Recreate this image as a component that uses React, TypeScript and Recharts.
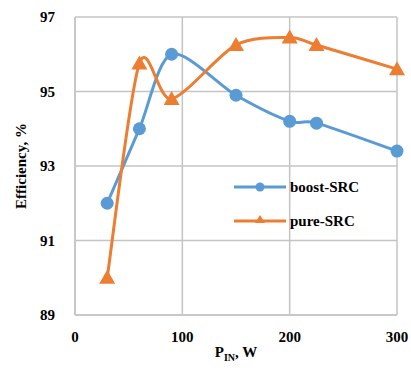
import { LineChart, Line, XAxis, YAxis, CartesianGrid, Label } from 'recharts'

const powerIn = [30, 60, 90, 150, 200, 225, 300]
const boostSrc = [92.0, 94.0, 96.0, 94.9, 94.2, 94.15, 93.4]
const pureSrc = [90.0, 95.75, 94.8, 96.25, 96.45, 96.25, 95.6]
const xTicks = [0, 100, 200, 300]
const yTicks = [89, 91, 93, 95, 97]

const BLUE = '#5B9BD5'
const ORANGE = '#ED7D31'
const GRID = '#C4C4C4'
const FONT = '"Liberation Serif", serif'

// plot box (from chart size and margins)
const W = 411
const H = 370
const M = { top: 17, right: 14, bottom: 25, left: 0 }
const Y_W = 75
const X_H = 30
const PLOT_L = M.left + Y_W
const PLOT_R = W - M.right

const data = powerIn.map((p, i) => ({ p, boost: boostSrc[i], pure: pureSrc[i] }))

// Excel-like smoothed line (Catmull-Rom through every point)
const excelSmooth = (ctx: any) => {
  let pts: number[][] = []
  return {
    areaStart() {},
    areaEnd() {},
    lineStart() {
      pts = []
    },
    point(x: number, y: number) {
      pts.push([+x, +y])
    },
    lineEnd() {
      if (!pts.length) return
      ctx.moveTo(pts[0][0], pts[0][1])
      for (let i = 0; i < pts.length - 1; i++) {
        const p0 = pts[i - 1] || pts[i]
        const p1 = pts[i]
        const p2 = pts[i + 1]
        const p3 = pts[i + 2] || p2
        const k = 7
        ctx.bezierCurveTo(
          p1[0] + (p2[0] - p0[0]) / k,
          p1[1] + (p2[1] - p0[1]) / k,
          p2[0] - (p3[0] - p1[0]) / k,
          p2[1] - (p3[1] - p1[1]) / k,
          p2[0],
          p2[1],
        )
      }
    },
  }
}

const tickText = { fill: '#000', fontSize: 15, fontWeight: 'bold', fontFamily: FONT } as const

const Triangle = ({ cx, cy }: any) => {
  if (cx == null || cy == null) return null
  return <path d={`M${cx},${cy - 8} L${cx + 8},${cy + 6} L${cx - 8},${cy + 6} Z`} fill={ORANGE} />
}

const Circle = ({ cx, cy }: any) => {
  if (cx == null || cy == null) return null
  return <circle cx={cx} cy={cy} r={6.5} fill={BLUE} />
}

const LegendBox = () => (
  <div
    style={{
      position: 'absolute',
      left: 234,
      top: 170,
      fontFamily: FONT,
      fontWeight: 'bold',
      fontSize: 15,
      color: '#000',
    }}
  >
    {[
      { name: 'boost-SRC', color: BLUE, tri: false },
      { name: 'pure-SRC', color: ORANGE, tri: true },
    ].map((s) => (
      <div key={s.name} style={{ display: 'flex', alignItems: 'center', height: 34 }}>
        <svg width={54} height={16}>
          <line x1={0} y1={8} x2={52} y2={8} stroke={s.color} strokeWidth={3} />
          {s.tri ? (
            <path d="M26,2 L31,10 L21,10 Z" fill={s.color} />
          ) : (
            <circle cx={26} cy={8} r={4.5} fill={s.color} />
          )}
        </svg>
        <span style={{ marginLeft: 2 }}>{s.name}</span>
      </div>
    ))}
  </div>
)

const XLabel = ({ viewBox }: any) => {
  const cx = viewBox ? viewBox.x + viewBox.width / 2 : (PLOT_L + PLOT_R) / 2
  return (
    <text x={cx} y={357} textAnchor="middle" fontFamily={FONT} fontWeight="bold" fontSize={15} fill="#000">
      P
      <tspan fontSize={10} dy={4}>IN</tspan>
      <tspan dy={-4}>, W</tspan>
    </text>
  )
}

export default function App() {
  return (
    <div style={{ position: 'absolute', left: 0, top: 0, width: W, height: H, background: '#fff' }}>
      <LineChart width={W} height={H} data={data} margin={M}>
        <CartesianGrid stroke={GRID} strokeWidth={1.5} />
        <XAxis
          dataKey="p"
          type="number"
          domain={[0, 300]}
          ticks={xTicks}
          height={X_H}
          stroke={GRID}
          strokeWidth={1.5}
          tickLine={false}
          tick={tickText}
          tickMargin={10}
        >
          <Label content={<XLabel />} />
        </XAxis>
        <YAxis
          type="number"
          domain={[89, 97]}
          ticks={yTicks}
          width={Y_W}
          stroke={GRID}
          strokeWidth={1.5}
          tickLine={false}
          tick={tickText}
          tickMargin={14}
        >
          <Label
            value="Efficiency, %"
            angle={-90}
            position="insideLeft"
            offset={21}
            style={{ textAnchor: 'middle', fontFamily: FONT, fontWeight: 'bold', fontSize: 15, fill: '#000' }}
          />
        </YAxis>
        <Line
          dataKey="boost"
          name="boost-SRC"
          type={excelSmooth as any}
          stroke={BLUE}
          strokeWidth={3}
          dot={<Circle />}
          activeDot={false}
          isAnimationActive={false}
        />
        <Line
          dataKey="pure"
          name="pure-SRC"
          type={excelSmooth as any}
          stroke={ORANGE}
          strokeWidth={3}
          dot={<Triangle />}
          activeDot={false}
          isAnimationActive={false}
        />
      </LineChart>
      <LegendBox />
    </div>
  )
}
